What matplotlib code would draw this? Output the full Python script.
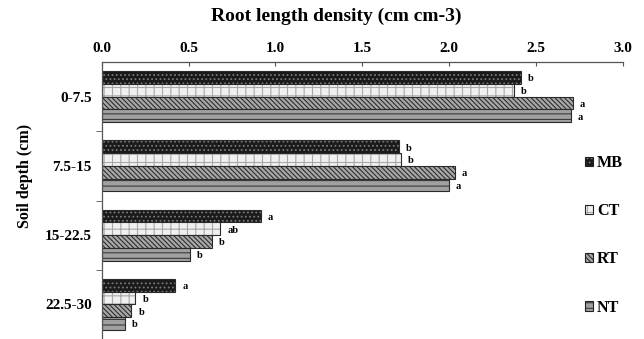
import matplotlib
matplotlib.use("Agg")
import matplotlib.pyplot as plt
from matplotlib.patches import Patch
import numpy as np

plt.rcParams['font.family'] = ['Liberation Serif', 'DejaVu Serif']
plt.rcParams['font.weight'] = 'bold'
plt.rcParams['hatch.linewidth'] = 0.8

depths = ["0-7.5", "7.5-15", "15-22.5", "22.5-30"]
treatments = ["MB", "CT", "RT", "NT"]
mb = [2.415, 1.71, 0.915, 0.424]
ct = [2.373, 1.72, 0.683, 0.194]
rt = [2.713, 2.034, 0.635, 0.171]
nt = [2.70, 1.998, 0.508, 0.132]
letters_mb = ["b", "b", "a", "a"]
letters_ct = ["b", "b", "ab", "b"]
letters_rt = ["a", "a", "b", "b"]
letters_nt = ["a", "a", "b", "b"]
xticks = [0.0, 0.5, 1.0, 1.5, 2.0, 2.5, 3.0]

values = [mb, ct, rt, nt]
letters = [letters_mb, letters_ct, letters_rt, letters_nt]
styles = [
    dict(face="#1a1a1a", hatch="....", hc="#7a7a7a"),
    dict(face="#f0f0f0", hatch="++", hc="#a8a8a8"),
    dict(face="#a8a8a8", hatch="\\\\\\\\\\\\\\", hc="#2e2e2e"),
    dict(face="#a0a0a0", hatch="---", hc="#3a3a3a"),
]

fig = plt.figure(figsize=(6.44, 3.39), dpi=100)
ax = fig.add_axes([101.7/644, 0.0, (623-101.7)/644, (339-62)/339])

h = 0.185
y = np.arange(len(depths))
for j, (vals, st) in enumerate(zip(values, styles)):
    pos = y + (j - 1.5) * h
    ax.barh(pos, vals, height=h, color=st["face"], hatch=st["hatch"],
            edgecolor=st["hc"], linewidth=0)
    ax.barh(pos, vals, height=h, fill=False, edgecolor="#2a2a2a", linewidth=0.8)
    for p, v, l in zip(pos, vals, letters[j]):
        ax.text(v + 0.04, p + 0.02, l, fontsize=7.5, fontweight='bold',
                va='center', ha='left')

ax.set_xlim(0, 3.0)
ax.set_ylim(3.5, -0.5)
ax.xaxis.tick_top()
ax.set_xticks(xticks)
ax.set_xticklabels([f"{t:.1f}" for t in xticks], fontsize=11, fontweight='bold')
ax.tick_params(axis='x', direction='in', length=3, color='#555555', pad=5)
ax.set_yticks(y)
ax.set_yticklabels(depths, fontsize=11, fontweight='bold')
ax.tick_params(axis='y', which='major', length=0, pad=7)
ax.set_yticks([0.5, 1.5, 2.5], minor=True)
ax.tick_params(axis='y', which='minor', direction='out', length=4, color='#555555')
for s in ['right', 'bottom']:
    ax.spines[s].set_visible(False)
for s in ['top', 'left']:
    ax.spines[s].set_color('#555555')
    ax.spines[s].set_linewidth(0.9)

fig.text(336.5/644, 1 - 16.5/339, "Root length density (cm cm-3)",
         ha='center', va='center', fontsize=14, fontweight='bold')
fig.text(25/644, 1 - 175.6/339, "Soil depth (cm)", rotation=90,
         ha='center', va='center', fontsize=11.5, fontweight='bold')

handles = [(Patch(facecolor=st["face"], hatch=st["hatch"], edgecolor=st["hc"],
                  linewidth=0),
            Patch(fill=False, edgecolor="#222222", linewidth=0.8))
           for st in styles]
leg = fig.legend(handles, treatments, loc='center left',
                 bbox_to_anchor=(570.5/644, 1 - 235.3/339), frameon=False,
                 handlelength=0.5, handleheight=0.5, handletextpad=0.25,
                 labelspacing=2.0, prop=dict(family='Liberation Serif',
                                              weight='bold', size=11.6))

fig.savefig("out.png", dpi=100)
